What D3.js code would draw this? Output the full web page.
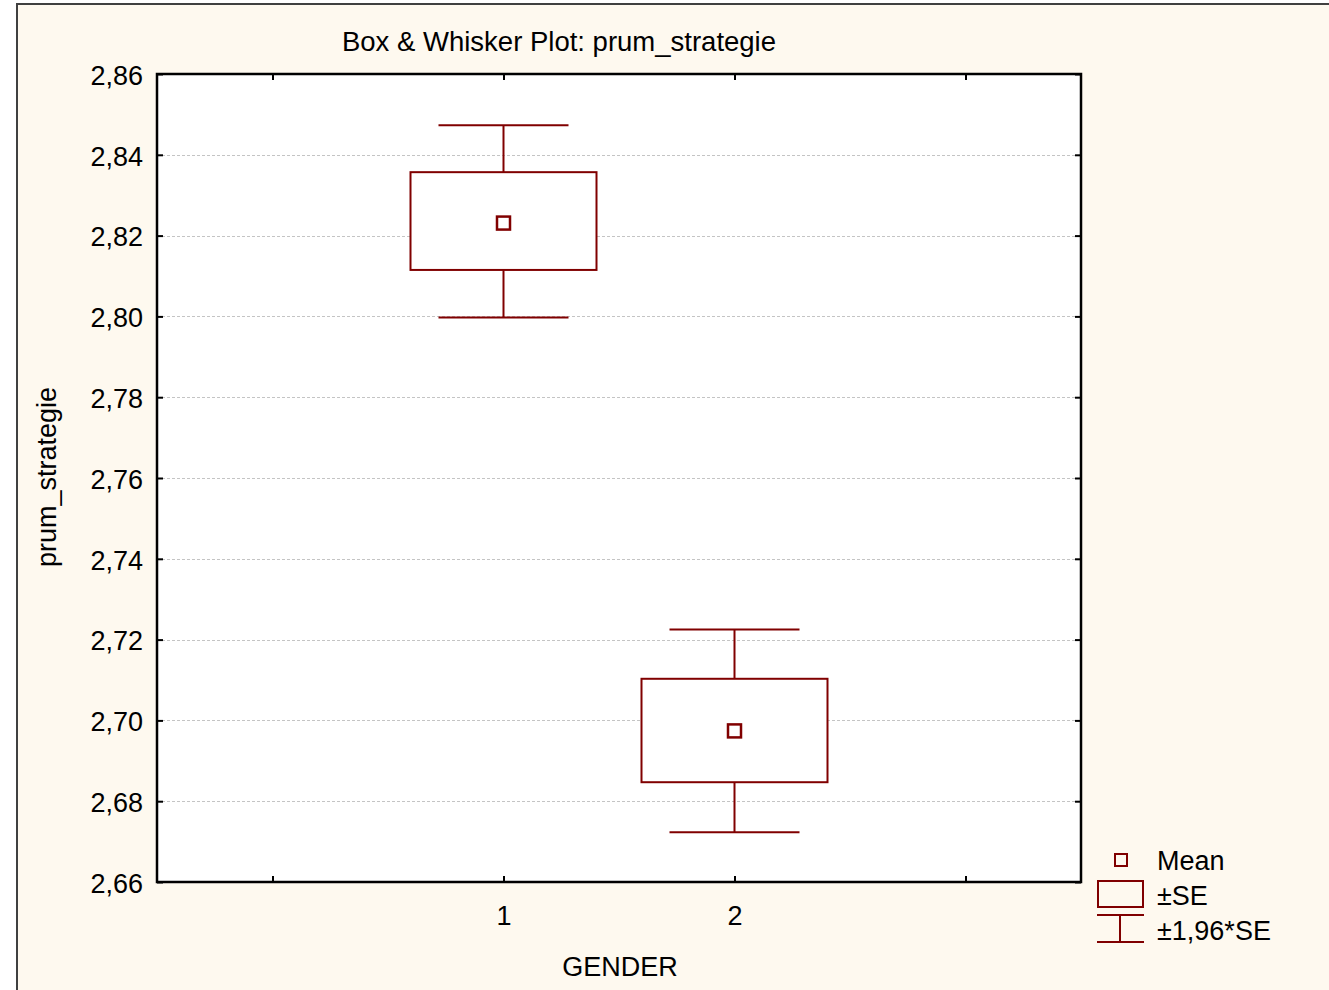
<!doctype html>
<html>
<head>
<meta charset="utf-8">
<title>Box & Whisker Plot: prum_strategie</title>
<script src="https://cdn.jsdelivr.net/npm/d3@7"></script>
<style>
    body { margin: 0; background: #ffffff; }
    text { font-family: "Liberation Sans", Arial, sans-serif; fill: #000; }
</style>
</head>
<body>
<div id="chart"></div>
<script>
// values
var groups = ["1", "2"];
var means = [2.8231, 2.6974];
var seLow = [2.8115, 2.6847];
var seHigh = [2.8357, 2.7103];
var ciLow = [2.7997, 2.6723];
var ciHigh = [2.8473, 2.7225];
var yTicks = [2.66, 2.68, 2.70, 2.72, 2.74, 2.76, 2.78, 2.80, 2.82, 2.84, 2.86];
var xTicks = [0, 1, 2, 3];
var legendLabels = ["Mean", "±SE", "±1,96*SE"];

var W = 1329, H = 990;
var mLeft = 157, mRight = 1081, mTop = 74, mBottom = 882;
var red = "#800000";
var fs = 27;
var fmt = function (d) { return d3.format(".2f")(d).replace(".", ","); };

var svg = d3.select("#chart").append("svg").attr("width", W).attr("height", H);

// cream panel with border
svg.append("rect").attr("x", 17).attr("y", 4).attr("width", W + 10).attr("height", H + 10)
    .attr("fill", "#fef9ef").attr("stroke", "#404040").attr("stroke-width", 2);

var x = d3.scaleLinear().domain([-0.5, 3.5]).range([mLeft, mRight]);
var y = d3.scaleLinear().domain([2.66, 2.86]).range([mBottom, mTop]);

svg.append("rect").attr("x", mLeft).attr("y", mTop)
    .attr("width", mRight - mLeft).attr("height", mBottom - mTop).attr("fill", "#fff");

// grid lines
svg.append("g").selectAll("line").data(yTicks.slice(1, -1)).join("line")
    .attr("x1", mLeft).attr("x2", mRight)
    .attr("y1", function (d) { return Math.round(y(d)) + 0.5; })
    .attr("y2", function (d) { return Math.round(y(d)) + 0.5; })
    .attr("stroke", "#c4c4c4").attr("stroke-dasharray", "3,2");

// axes (ticks pointing inward)
var yLeft = d3.axisLeft(y).tickValues(yTicks).tickSize(-6).tickPadding(14).tickFormat(fmt);
var yRight = d3.axisRight(y).tickValues(yTicks).tickSize(-6).tickFormat("");
var xBottom = d3.axisBottom(x).tickValues(xTicks).tickSize(-6).tickPadding(24)
    .tickFormat(function (d) { return groups[d - 1] || ""; });
var xTop = d3.axisTop(x).tickValues(xTicks).tickSize(-6).tickFormat("");

function style(g) {
    g.select(".domain").remove();
    g.selectAll(".tick line").attr("stroke", "#000").attr("stroke-width", 2);
    g.selectAll(".tick text").attr("font-size", fs).attr("fill", "#000")
        .attr("font-family", "'Liberation Sans', Arial, sans-serif");
}
svg.append("g").attr("transform", "translate(" + mLeft + ",0)").call(yLeft).call(style)
    .selectAll(".tick text").attr("dy", "0.38em");
svg.append("g").attr("transform", "translate(" + mRight + ",0)").call(yRight).call(style);
svg.append("g").attr("transform", "translate(0," + mBottom + ")").call(xBottom).call(style);
svg.append("g").attr("transform", "translate(0," + mTop + ")").call(xTop).call(style);

svg.append("rect").attr("x", mLeft).attr("y", mTop)
    .attr("width", mRight - mLeft).attr("height", mBottom - mTop)
    .attr("fill", "none").attr("stroke", "#000").attr("stroke-width", 2.5);

// boxes and whiskers
var items = groups.map(function (g, i) {
    return { pos: i + 1, mean: means[i], lo: seLow[i], hi: seHigh[i], cl: ciLow[i], ch: ciHigh[i] };
});
var gb = svg.append("g").selectAll("g").data(items).join("g");
gb.append("line")
    .attr("x1", function (d) { return x(d.pos); }).attr("x2", function (d) { return x(d.pos); })
    .attr("y1", function (d) { return y(d.ch); }).attr("y2", function (d) { return y(d.cl); })
    .attr("stroke", red).attr("stroke-width", 2);
gb.selectAll(".cap").data(function (d) { return [d.cl, d.ch].map(function (v) { return { pos: d.pos, v: v }; }); })
    .join("line")
    .attr("x1", function (d) { return x(d.pos) - 65; }).attr("x2", function (d) { return x(d.pos) + 65; })
    .attr("y1", function (d) { return y(d.v); }).attr("y2", function (d) { return y(d.v); })
    .attr("stroke", red).attr("stroke-width", 2);
gb.append("rect")
    .attr("x", function (d) { return x(d.pos) - 93; }).attr("width", 186)
    .attr("y", function (d) { return y(d.hi); })
    .attr("height", function (d) { return y(d.lo) - y(d.hi); })
    .attr("fill", "#fff").attr("stroke", red).attr("stroke-width", 2);
gb.append("rect")
    .attr("x", function (d) { return x(d.pos) - 6.5; }).attr("width", 13)
    .attr("y", function (d) { return y(d.mean) - 6.5; }).attr("height", 13)
    .attr("fill", "#fff").attr("stroke", red).attr("stroke-width", 2.5);

// titles
svg.append("text").attr("x", 559).attr("y", 51).attr("text-anchor", "middle")
    .attr("font-size", 27.5).text("Box & Whisker Plot: prum_strategie");
svg.append("text").attr("x", 620).attr("y", 976).attr("text-anchor", "middle")
    .attr("font-size", fs).text("GENDER");
svg.append("text").attr("transform", "translate(56,477) rotate(-90)").attr("text-anchor", "middle")
    .attr("font-size", fs).text("prum_strategie");

// legend
var lg = svg.append("g");
lg.append("rect").attr("x", 1115).attr("y", 854).attr("width", 12).attr("height", 12)
    .attr("fill", "none").attr("stroke", red).attr("stroke-width", 2);
lg.append("rect").attr("x", 1098).attr("y", 881).attr("width", 45).attr("height", 26)
    .attr("fill", "none").attr("stroke", red).attr("stroke-width", 2);
lg.append("line").attr("x1", 1097).attr("x2", 1144).attr("y1", 915).attr("y2", 915).attr("stroke", red).attr("stroke-width", 2);
lg.append("line").attr("x1", 1097).attr("x2", 1144).attr("y1", 942).attr("y2", 942).attr("stroke", red).attr("stroke-width", 2);
lg.append("line").attr("x1", 1120).attr("x2", 1120).attr("y1", 915).attr("y2", 942).attr("stroke", red).attr("stroke-width", 2);
lg.selectAll("text").data(legendLabels).join("text")
    .attr("x", 1157).attr("y", function (d, i) { return 870 + i * 35; })
    .attr("font-size", fs).text(function (d) { return d; });
</script>
</body>
</html>
